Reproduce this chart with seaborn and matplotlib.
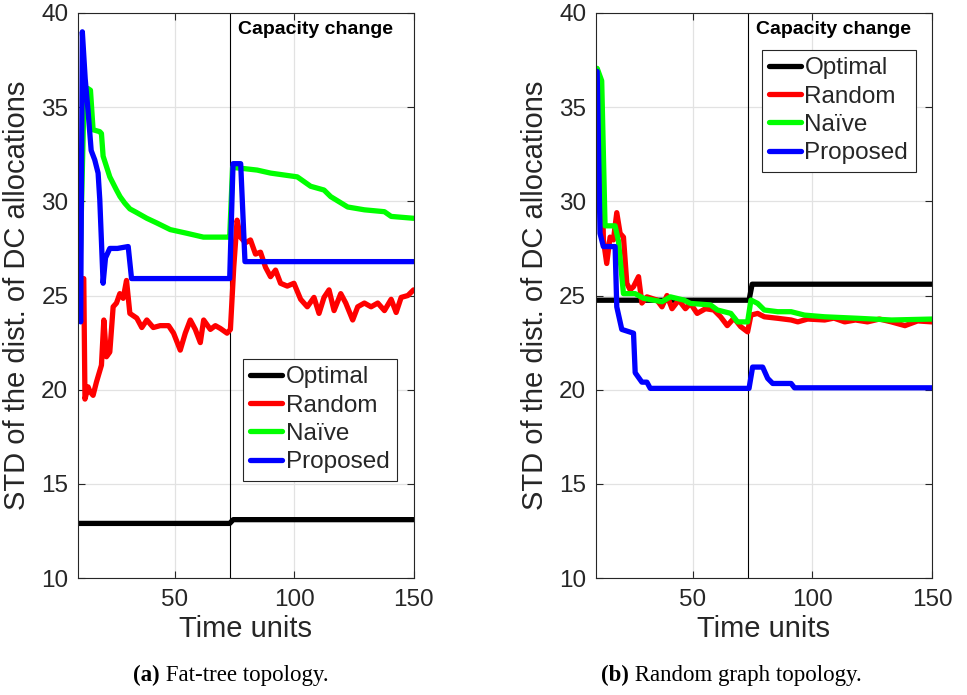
import matplotlib
matplotlib.use("Agg")
import matplotlib.pyplot as plt
from matplotlib.lines import Line2D
import pandas as pd
import seaborn as sns

# ---------------------------------------------------------------- data
methods = ["Optimal", "Random", "Naïve", "Proposed"]
colors = ["#000000", "#ff0000", "#00ff00", "#0000ff"]
capacity_change_t = 73

# (a) Fat-tree topology
ft_opt_t = [10, 73, 74.5, 150]
ft_opt = [12.9, 12.9, 13.1, 13.1]

ft_rand_t = [11.9, 12.4, 13.7, 14.5, 15.8, 17.2, 18.6, 19.3, 20.3, 21.4, 22.8, 24.2,
             25.6, 27.0, 28.4, 29.8, 31.2, 34.1, 36.2, 38.3, 41.0, 43.9, 47.4, 49.5,
             52.3, 54.4, 56.5, 58.6, 60.7, 62.1, 64.9, 67.0, 69.1, 71.9, 73.3, 74.7,
             76.1, 77.5, 79.6, 81.7, 83.8, 85.9, 88.0, 90.1, 92.2, 94.3, 97.1, 99.9,
             102.7, 105.5, 108.3, 110.4, 112.5, 114.6, 116.7, 119.5, 121.6, 124.5,
             126.6, 129.4, 132.2, 135.0, 137.8, 140.6, 142.7, 144.8, 147.6, 150]
ft_rand = [25.9, 19.5, 20.15, 19.9, 19.7, 20.4, 21.0, 21.3, 23.7, 21.75, 22.0, 24.4,
           24.6, 25.1, 24.85, 25.8, 24.05, 23.8, 23.3, 23.7, 23.3, 23.4, 23.4, 23.0,
           22.1, 23.0, 23.7, 23.2, 22.5, 23.7, 23.2, 23.4, 23.25, 23.0, 23.2, 26.5,
           29.0, 28.1, 27.8, 27.95, 27.2, 27.3, 26.5, 26.0, 26.35, 25.65, 25.5, 25.65,
           24.8, 24.4, 24.9, 24.05, 24.9, 25.3, 24.2, 25.1, 24.6, 23.7,
           24.4, 24.6, 24.4, 24.6, 24.2, 24.8, 24.1, 24.9, 25.0, 25.3]

ft_naive_t = [10, 11, 12, 13.5, 14.7, 15.8, 18.6, 19.3, 20.0, 22.8, 25.6, 27.1, 29.1,
              31.2, 34.1, 38.3, 42.5, 48.1, 55.2, 62, 71.9, 73, 74.2, 78.2, 84.5,
              90.1, 101.3, 106.9, 112.5, 115.3, 122.4, 129.4, 137.8, 140.6, 150]
ft_naive = [24.6, 30.0, 35.5, 36.0, 35.9, 33.8, 33.7, 33.6, 32.4, 31.3, 30.6, 30.25, 29.9,
            29.6, 29.4, 29.1, 28.85, 28.5, 28.3, 28.1, 28.1, 28.1, 31.8, 31.75, 31.66,
            31.5, 31.3, 30.8, 30.6, 30.25, 29.7, 29.55, 29.45, 29.2, 29.1]

ft_prop_t = [10, 10.6, 11.3, 12.5, 13.7, 15.0, 16.5, 17.9, 18.6, 20.0, 21.0, 22.8,
             26, 30.5, 31.9, 73, 74.4, 77.6, 79.4, 150]
ft_prop = [24.2, 23.6, 39.0, 36.5, 34.8, 32.7, 32.2, 31.5, 30.1, 25.65, 27.0, 27.5,
           27.5, 27.6, 25.9, 25.9, 32.0, 32.0, 26.8, 26.8]

# (b) Random graph topology
rg_opt_t = [10, 73.5, 74.8, 150]
rg_opt = [24.75, 24.75, 25.6, 25.6]

rg_rand_t = [10, 11.5, 12.6, 14.0, 15.4, 16.8, 18.2, 19.6, 21.0, 22.4, 23.8, 25.2,
             27.3, 28.7, 30.8, 35.0, 37.1, 39.2, 41.3, 44.1, 46.9, 49.0, 51.8, 55.3,
             58.8, 61.6, 64.4, 67.2, 70.0, 72.9, 74.3, 77.1, 79.9, 85.5, 91.1, 93.9,
             98, 105.1, 109, 113.5, 118, 123, 128, 133, 138.7, 144, 150]
rg_rand = [37.0, 36.0, 27.95, 26.7, 28.1, 27.95, 29.4, 28.3, 28.1, 25.65, 25.3, 25.47,
           26.0, 24.6, 24.93, 24.76, 24.4, 25.0, 24.3, 24.76, 24.3, 24.58, 24.05, 24.3,
           24.23, 23.87, 23.4, 23.8, 23.35, 23.07, 23.96, 24.05, 23.87, 23.79, 23.7, 23.6,
           23.75, 23.7, 23.8, 23.6, 23.7, 23.6, 23.75, 23.6, 23.4, 23.65, 23.6]

rg_naive_t = [10, 11.9, 13.3, 17.5, 18.9, 21.0, 25.9, 29.4, 37.1, 40.6, 46.2, 49,
              57.4, 60.3, 65.9, 68.7, 72.9, 74.3, 77.1, 79.9, 85.5, 91.1, 96.7, 105.1,
              119.1, 133.1, 150]
rg_naive = [37.06, 36.4, 28.7, 28.7, 27.9, 25.1, 25.1, 24.85, 24.67, 24.93, 24.76, 24.58,
            24.5, 24.23, 24.05, 23.6, 23.6, 24.76, 24.58, 24.23, 24.14, 24.14, 23.96, 23.87,
            23.79, 23.7, 23.75]

rg_prop_t = [10, 11.2, 12.6, 17.5, 18.2, 20.3, 25.2, 25.9, 28.7, 30.8, 32.2, 73.5,
             75.0, 79.2, 81.3, 83.4, 91.1, 92.5, 150]
rg_prop = [36.9, 28.3, 27.6, 27.6, 24.4, 23.2, 23.0, 20.9, 20.4, 20.4, 20.07, 20.07,
           21.2, 21.2, 20.6, 20.33, 20.33, 20.1, 20.1]

x_ticks = [50, 100, 150]
y_ticks = [10, 15, 20, 25, 30, 35, 40]


def long_frame(series):
    rows = []
    for name, (t, v) in zip(methods, series):
        rows += [{"t": a, "std": b, "method": name} for a, b in zip(t, v)]
    return pd.DataFrame(rows)


fat_tree = long_frame([(ft_opt_t, ft_opt), (ft_rand_t, ft_rand),
                       (ft_naive_t, ft_naive), (ft_prop_t, ft_prop)])
rand_graph = long_frame([(rg_opt_t, rg_opt), (rg_rand_t, rg_rand),
                         (rg_naive_t, rg_naive), (rg_prop_t, rg_prop)])

# ---------------------------------------------------------------- style
sns.set_theme(style="whitegrid")
plt.rcParams["font.family"] = ["Liberation Sans", "DejaVu Sans"]
dark = "#262626"

fig = plt.figure(figsize=(9.67, 6.95), dpi=100)
ax_a = fig.add_axes([0.0807, 0.1683, 0.347, 0.813])
ax_b = fig.add_axes([0.6163, 0.1683, 0.3475, 0.813])

palette = dict(zip(methods, colors))


def draw_panel(ax, df, legend_anchor):
    sns.lineplot(data=df, x="t", y="std", hue="method", hue_order=methods,
                 palette=palette, linewidth=3.8, estimator=None, sort=False,
                 legend=False, ax=ax)
    for ln in ax.get_lines():
        ln.set_solid_joinstyle("round")
        ln.set_solid_capstyle("round")
    ax.axvline(capacity_change_t, color="black", linewidth=0.8, zorder=1)
    ax.text(76.6, 39.15, "Capacity change", fontsize=14, fontweight="bold",
            ha="left", va="center", color="black")
    ax.set_xlim(9.5, 150)
    ax.set_ylim(10, 40)
    ax.set_xticks(x_ticks)
    ax.set_yticks(y_ticks)
    ax.grid(True, color="#e2e2e2", linewidth=0.9)
    ax.tick_params(direction="in", length=5, width=0.8, color=dark,
                   labelcolor=dark, labelsize=17.5, bottom=True, top=True,
                   left=True, right=True)
    ax.tick_params(axis="x", pad=8)
    ax.tick_params(axis="y", pad=7)
    for sp in ax.spines.values():
        sp.set_visible(True)
        sp.set_color(dark)
        sp.set_linewidth(0.8)
    ax.set_xlabel("Time units", fontsize=21, color=dark, labelpad=3)
    ax.set_ylabel("STD of the dist. of DC allocations", fontsize=21,
                  color=dark, labelpad=7)
    handles = [Line2D([], [], color=c, linewidth=3.8) for c in colors]
    leg = ax.legend(handles, methods, loc="upper left",
                    bbox_to_anchor=legend_anchor, fontsize=17.5, frameon=True,
                    fancybox=False, framealpha=1, edgecolor=dark,
                    handlelength=1.3, handletextpad=0.15, labelspacing=0.26,
                    borderpad=0.3, borderaxespad=0)
    leg.get_frame().set_linewidth(0.8)


draw_panel(ax_a, fat_tree, (0.4916, 0.3876))
draw_panel(ax_b, rand_graph, (0.494, 0.9345))


# sub-figure captions: bold tag followed by plain serif text
def caption(xc_px, y, tag, rest):
    renderer = fig.canvas.get_renderer()
    kw = dict(fontsize=16.5, family="Liberation Serif", va="baseline",
              ha="left", color="black")
    t1 = fig.text(0, y, tag, fontweight="bold", **kw)
    t2 = fig.text(0, y, " " + rest, **kw)
    w1 = t1.get_window_extent(renderer).width
    w2 = t2.get_window_extent(renderer).width
    W = fig.bbox.width
    x0 = xc_px - (w1 + w2) / 2
    t1.set_x(x0 / W)
    t2.set_x((x0 + w1) / W)


caption(231, 0.020, "(a)", "Fat-tree topology.")
caption(731, 0.020, "(b)", "Random graph topology.")

fig.savefig("out.png", dpi=100)
